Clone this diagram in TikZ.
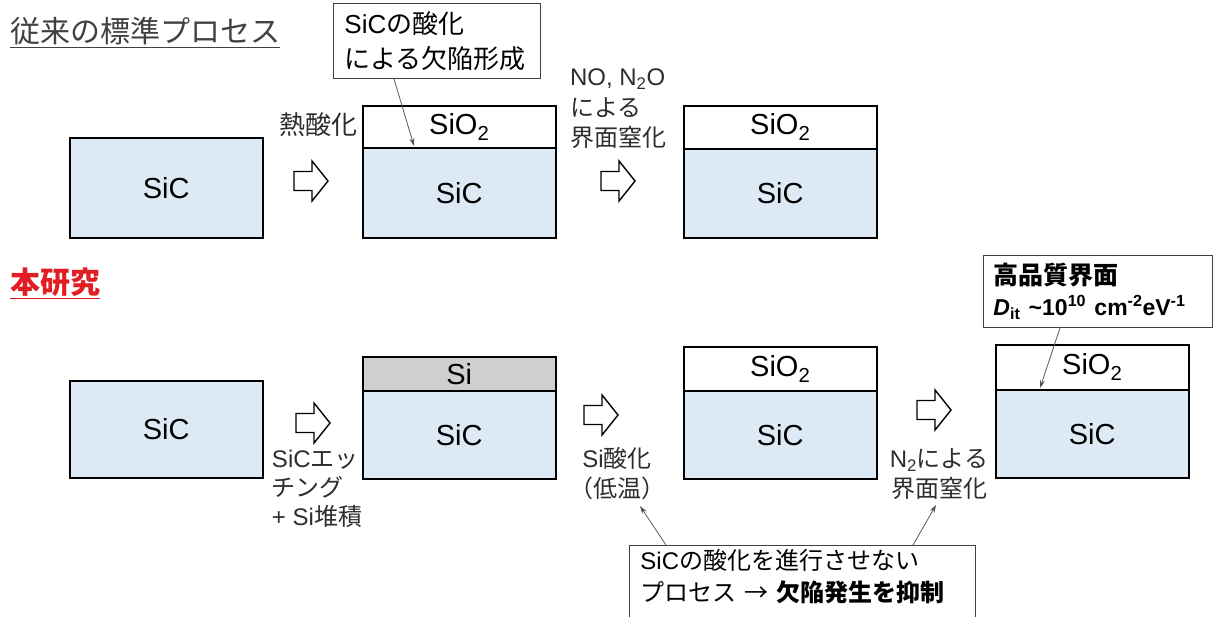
\documentclass[tikz,border=0pt]{standalone}
\usepackage{fontspec}
\setmainfont{Liberation Sans}
\newfontfamily\jpfont{Noto Sans CJK JP}
\newcommand\lat{\rmfamily}
\usetikzlibrary{arrows.meta,calc}
\definecolor{sicblue}{RGB}{221,234,246}
\definecolor{sigray}{RGB}{208,206,206}
\definecolor{titlered}{RGB}{226,30,36}
\definecolor{titlegray}{RGB}{64,64,64}
\definecolor{txtgray}{RGB}{45,45,45}
\begin{document}
\begin{tikzpicture}[x=1pt,y=-1pt,
  layer/.style={draw=black, line width=1.5pt, minimum width=193pt, anchor=north west, inner sep=0pt, font=\fontsize{29}{29}\selectfont},
  sic/.style={layer, fill=sicblue},
  ox/.style={layer, fill=white},
  si/.style={layer, fill=sigray},
  titletext/.style={font=\fontsize{30}{30}\selectfont\jpfont, inner sep=0pt, anchor=west},
  lbl/.style={font=\fontsize{24}{30}\selectfont\jpfont, text=txtgray, inner sep=0pt},
  callout/.style={draw=black!75, line width=0.9pt, fill=white, align=left, inner xsep=11pt, inner ysep=4pt, anchor=north west, font=\fontsize{24}{34}\selectfont\jpfont},
  ptr/.style={draw=black!65, line width=0.8pt, -{Stealth[length=8pt,width=5pt,fill=black]}},
  blockarrow/.pic={\draw[line width=1.4pt, fill=white, line join=miter, miter limit=4] (-17,-9.5) -- (1,-9.5) -- (1,-20) -- (17,0) -- (1,20) -- (1,9.5) -- (-17,9.5) -- cycle;}
]
\useasboundingbox (0,0) rectangle (1214,616);

% ---------------- top row
\node[titletext, text=titlegray] (t1) at (10,31) {従来の標準プロセス};
\draw[titlegray, line width=1.2pt] ([yshift=-2pt]t1.south west) -- ([yshift=-2pt]t1.south east);

\node[sic, minimum height=100pt] (a1) at (69,137) {SiC};
\node[ox, minimum height=42pt] (a2o) at (362,105) {SiO\textsubscript{2}};
\node[sic, minimum height=90pt] (a2s) at (362,147) {SiC};
\node[ox, minimum height=43pt] (a3o) at (683,105) {SiO\textsubscript{2}};
\node[sic, minimum height=89pt] (a3s) at (683,148) {SiC};

\pic at (311,181) {blockarrow};
\pic at (618,181) {blockarrow};

\node[lbl, font=\fontsize{26}{30}\selectfont\jpfont] (l1) at (318,125) {熱酸化};
\node[lbl, align=left] (l2) at (618,109) {{\lat NO, N\textsubscript{2}O}\\[1pt]による\\界面窒化};

\node[callout, text width=185pt, minimum height=75pt, font=\fontsize{26}{35}\selectfont\jpfont] (c1) at (333,3) {{\lat SiC}の酸化\\による欠陥形成};
\coordinate (p1) at (414,146);
\draw[ptr] ($(c1.south west)+(61,0)$) -- (p1);

% ---------------- bottom row
\node[titletext, text=titlered, font=\fontsize{30}{30}\selectfont\jpfont\bfseries] (t2) at (10,282) {本研究};
\draw[titlered, line width=1.3pt] ([yshift=-2pt]t2.south west) -- ([yshift=-2pt]t2.south east);

\node[sic, minimum height=97pt] (b1) at (69,380) {SiC};
\node[si, minimum height=34pt] (b2o) at (362,356) {Si};
\node[sic, minimum height=88pt] (b2s) at (362,390) {SiC};
\node[ox, minimum height=44pt] (b3o) at (683,346) {SiO\textsubscript{2}};
\node[sic, minimum height=88pt] (b3s) at (683,390) {SiC};
\node[ox, minimum height=45pt] (b4o) at (995,344) {SiO\textsubscript{2}};
\node[sic, minimum height=88pt] (b4s) at (995,389) {SiC};

\pic at (313,423) {blockarrow};
\pic at (601,415) {blockarrow};
\pic at (934,410) {blockarrow};

\node[lbl, align=left, font=\fontsize{24}{29}\selectfont\jpfont] (l3) at (317,489) {{\lat SiC}エッ\\チング\\{\lat + Si}堆積};
\node[lbl, align=center] (l4) at (617,474) {{\lat Si}酸化\\（低温）};
\node[lbl, align=center] (l5) at (939,474) {{\lat N\textsubscript{2}}による\\界面窒化};

\node[callout, text width=209pt, minimum height=72pt, inner xsep=10pt, font=\fontsize{25}{31}\selectfont\bfseries] (c2) at (983,255) {{\jpfont\bfseries 高品質界面}\\\mbox{\fontsize{23}{31}\selectfont\textit{D}\textsubscript{it} \textasciitilde10\textsuperscript{10} cm\textsuperscript{-2}eV\textsuperscript{-1}}};
\coordinate (p2) at (1040,388);
\draw[ptr] ($(c2.south west)+(77,0)$) -- (p2);

\node[callout, text width=324pt, font=\fontsize{24}{32}\selectfont\jpfont] (c3) at (629,545) {{\lat SiC}の酸化を進行させない\\プロセス → {\bfseries 欠陥発生を抑制}\rule[-40pt]{0pt}{0pt}};
\coordinate (p3) at (640,506);
\coordinate (p4) at (936,505);
\draw[ptr] ($(c3.north west)+(37,0)$) -- (p3);
\draw[ptr] ($(c3.north west)+(284,0)$) -- (p4);
\end{tikzpicture}
\end{document}
